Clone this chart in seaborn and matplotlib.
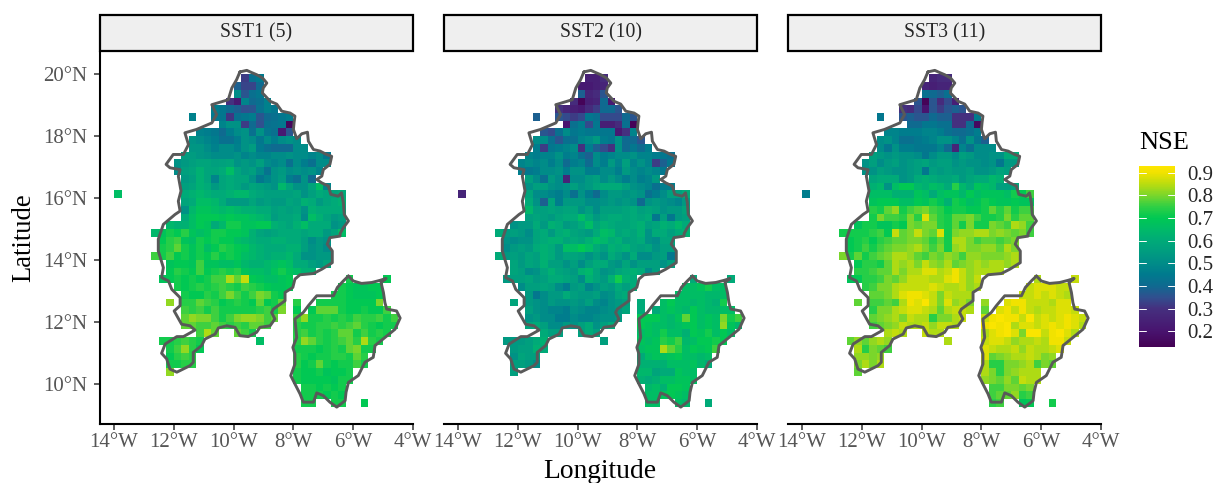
import numpy as np
import pandas as pd
import matplotlib
matplotlib.use("Agg")
import matplotlib.pyplot as plt
from matplotlib.cm import ScalarMappable
from matplotlib.colors import LinearSegmentedColormap, Normalize
from matplotlib.patches import Rectangle
import seaborn as sns

_ = None

# first grid column used in each row, row 0 is the northern one
row_start = [17, 16, 16, 15, 13, 10, 14, 11, 10, 10, 9, 8, 8, 9, 9, 0, 9, 9, 9, 7, 5, 6,
             6, 5, 7, 7, 6, 8, 9, 7, 9, 9, 9, 11, 6, 7, 7, 7, 7, 24, 25, 25, 25]

# NSE x 100 read from the cells
sst1_rows = [
    [32, 42, 45],
    [38, 33, 33, 40],
    [50, 36, 42, 44],
    [30, 22, 48, 40, 42, 47],
    [46, 44, 40, 38, 35, 36, 43, 47, 44],
    [47, _, _, 44, 44, 31, 42, 44, 46, 36, 40, 42, 44, 46],
    [48, 52, 52, 32, 40, 35, 42, 43, 44, 15],
    [47, 46, 44, 40, 46, 50, 52, 42, 52, 44, 42, 22, 36],
    [52, 50, 48, 46, 42, 42, 46, 52, 50, 44, 50, 46, 50, 52, 50],
    [53, 53, 50, 47, 50, 50, 47, 52, 55, 45, 42, 40, 40, 40, 50, 50],
    [55, 55, 53, 52, 50, 50, 50, 52, 48, 50, 48, 48, 50, 50, 52, 50, 50, 48, 50, 44],
    [52, 54, 56, 58, 58, 56, 57, 58, 52, 54, 52, 56, 50, 48, 50, 42, 50, 46, 42, 50, 50],
    [50, 56, 58, 62, 58, 58, 60, 66, 58, 54, 56, 50, 43, 52, 54, 50, 52, 50, 52, 48],
    [54, 56, 62, 58, 48, 58, 60, 58, 58, 52, 44, 48, 52, 55, 46, 42, 52, 40],
    [56, 58, 62, 60, 54, 58, 60, 58, 54, 58, 56, 54, 52, 64, 58, 52, 52, 58, 66, 48],
    [66, _, _, _, _, _, _, _, _, 60, 62, 64, 62, 60, 60, 62, 64, 64, 60, 58, 56, 56, 56, 56, 58, 52, 56, 60, 58, 58, 60],
    [58, 60, 66, 66, 64, 60, 54, 54, 54, 58, 54, 56, 54, 54, 58, 56, 62, 60, 54, 58, 60, 62],
    [52, 64, 68, 68, 66, 64, 66, 64, 62, 62, 60, 60, 56, 58, 56, 58, 52, 62, 60, 60, 60, 60],
    [60, 66, 70, 70, 70, 68, 70, 68, 68, 66, 64, 62, 55, 58, 58, 60, 50, 66, 62, 58, 54, 56],
    [64, 62, 62, 66, 70, 68, 60, 64, 72, 72, 68, 68, 70, 70, 62, 60, 58, 62, 66, 60, 60, 60, 52, 54],
    [64, 68, 72, 70, 74, 68, 66, 68, 72, 72, 70, 70, 68, 62, 58, 56, 58, 60, 60, 60, 58, 60, 60, 54, 58, 66],
    [70, 74, 76, 68, 66, 72, 70, 72, 70, 70, 66, 64, 62, 60, 60, 62, 62, 60, 60, 56, 50, 54, 52],
    [72, 74, 78, 72, 68, 72, 66, 70, 74, 72, 70, 68, 64, 62, 60, 60, 60, 62, 62, 56, 52, 54, 50],
    [76, 72, 76, 70, 72, 68, 72, 70, 74, 70, 72, 70, 66, 64, 62, 60, 62, 62, 64, 60, 52, 52, 54, 54],
    [68, 70, 70, 68, 76, 68, 68, 66, 66, 68, 64, 62, 62, 64, 66, 68, 66, 60, 60, 56, 54, 58],
    [70, 74, 72, 70, 76, 70, 72, 74, 72, 74, 68, 66, 66, 64, 68, 72, 68, 66, 62, 62],
    [68, 70, 72, 70, 72, 70, 72, 76, 76, 84, 78, 86, 70, 68, 66, 66, 68, 70, _, _, _, _, _, _, _, 72, _, _, _, _, 70],
    [72, 70, 72, 74, 72, 74, 76, 74, 72, 76, 74, 72, 70, 68, 68, 70, _, _, _, _, _, _, 72, 70, 68, 68, 70, 70],
    [72, 70, 70, 74, 72, 76, 80, 76, 72, 76, 80, 78, 72, 70, _, _, _, _, _, _, 72, 72, 70, 68, 68, 68, 70],
    [82, _, 74, 74, 78, 76, 74, 70, 72, 74, 72, 70, 78, 70, 72, 78, _, 74, _, _, 72, 72, 72, 72, 70, 70, 70, 70, 80],
    [76, 74, 76, 72, 76, 72, 72, 72, 72, 72, 74, 76, 72, 80, _, 70, _, 70, 78, 78, 78, 72, 70, 70, 72, 70, 70, 76],
    [78, 82, 80, 80, 76, 72, 76, 80, 82, 82, 80, 76, 78, _, _, 76, 82, 72, 72, 74, 72, 74, 72, 76, 74, 74, 76, 72, 76],
    [78, 78, 76, 76, 78, 76, 74, 76, 74, 78, 78, 76, _, _, _, 74, 72, 72, 74, 74, 76, 74, 76, 78, 74, 72, 70, 72, 72],
    [76, 84, 78, _, _, 78, 76, 72, _, _, _, _, _, 74, 76, 72, 74, 72, 74, 78, 78, 72, 76, 72, 74, 72],
    [72, 72, 74, 76, 74, 72, _, _, _, _, _, _, _, 66, _, _, _, _, 74, 82, 78, 74, 72, 74, 76, 78, 74, 84, 74, 72],
    [72, 76, 82, 74, 70, _, _, _, _, _, _, _, _, _, _, _, _, 72, 72, 72, 70, 72, 74, 72, 78, 80, 72, 72],
    [70, 74, 76, 74, _, _, _, _, _, _, _, _, _, _, _, _, _, 74, 72, 70, 72, 72, 74, 74, 72, 78, 74],
    [72, 72, 74, 74, _, _, _, _, _, _, _, _, _, _, _, _, _, 74, 70, 72, 78, 72, 70, 72, 72, 76, 72],
    [82, _, _, _, _, _, _, _, _, _, _, _, _, _, _, _, _, 72, 70, 70, 72, 68, 70, 70, 72],
    [72, 70, 70, 70, 70, 68, 72, 72],
    [72, 72, 70, 72, 70, 72],
    [72, 72, 72, 70, 72, 70],
    [72, 72, _, _, 72, 72, _, _, 70],
]

sst2_rows = [
    [24, 24, 28],
    [22, 22, 24, 26],
    [38, 26, 28, 36],
    [28, 14, 24, 26, 40, 22],
    [30, 26, 24, 22, 28, 32, 40, 40, 36],
    [38, _, _, 36, 34, 32, 34, 44, 42, 34, 34, 34, 40, 36],
    [20, 42, 46, 34, 44, 24, 24, 28, 42, 14],
    [36, 34, 42, 50, 44, 46, 44, 44, 44, 44, 22, 30, 48],
    [50, 50, 42, 36, 42, 42, 48, 50, 54, 46, 44, 52, 40, 40, 36],
    [46, 32, 44, 46, 48, 50, 30, 46, 38, 34, 30, 52, 40, 44, 40, 46],
    [48, 46, 48, 48, 52, 46, 48, 42, 38, 50, 46, 48, 50, 50, 52, 48, 48, 46, 44, 42],
    [48, 50, 48, 50, 46, 50, 40, 46, 48, 40, 50, 46, 54, 48, 56, 48, 52, 48, 32, 38, 44],
    [46, 44, 46, 50, 50, 52, 46, 52, 52, 46, 46, 50, 50, 46, 54, 50, 48, 50, 48, 44],
    [56, 50, 42, 54, 50, 26, 50, 50, 54, 56, 50, 54, 50, 46, 50, 46, 48, 54],
    [52, 56, 56, 52, 50, 52, 56, 52, 54, 58, 60, 60, 60, 56, 52, 50, 48, 42, 46, 46],
    [26, _, _, _, _, _, _, _, _, 58, 50, 50, 48, 46, 50, 42, 52, 46, 40, 50, 54, 54, 52, 54, 52, 42, 46, 50, 56, 56, 60],
    [60, 52, 38, 58, 46, 54, 54, 54, 50, 50, 52, 54, 52, 54, 52, 40, 52, 54, 52, 50, 48, 54],
    [64, 56, 56, 58, 56, 58, 58, 52, 56, 50, 56, 56, 56, 58, 60, 56, 58, 56, 52, 54, 54, 58],
    [56, 58, 56, 54, 58, 60, 60, 66, 60, 54, 58, 60, 60, 58, 60, 58, 60, 44, 56, 44, 54, 56],
    [52, 54, 54, 60, 54, 62, 60, 54, 56, 60, 66, 58, 62, 60, 58, 58, 60, 62, 56, 58, 62, 60, 64, 60],
    [60, 54, 56, 54, 50, 58, 60, 54, 60, 62, 58, 56, 54, 60, 66, 64, 58, 60, 58, 62, 52, 60, 60, 56, 60, 62],
    [52, 50, 52, 52, 58, 60, 62, 62, 58, 60, 58, 62, 66, 64, 60, 62, 56, 58, 60, 52, 50, 58, 58],
    [50, 54, 56, 54, 60, 62, 60, 54, 66, 66, 70, 66, 60, 56, 62, 60, 62, 58, 56, 58, 52, 56, 56],
    [60, 54, 56, 54, 58, 56, 62, 60, 54, 58, 58, 56, 52, 56, 52, 60, 56, 52, 60, 50, 50, 54, 56, 44],
    [58, 54, 58, 56, 62, 56, 56, 52, 56, 50, 56, 60, 60, 54, 52, 58, 52, 56, 56, 56, 52, 56],
    [58, 56, 50, 52, 58, 62, 58, 56, 54, 62, 64, 58, 52, 54, 58, 60, 62, 60, 50, 56],
    [54, 56, 56, 58, 54, 56, 60, 60, 58, 56, 50, 62, 58, 54, 62, 72, 62, 60, _, _, _, _, _, _, _, 60, _, _, _, _, 60],
    [50, 56, 56, 58, 56, 50, 46, 54, 56, 48, 52, 56, 54, 60, 56, 60, _, _, _, _, _, _, 66, 66, 68, 72, 66, 66],
    [54, 44, 50, 54, 54, 60, 56, 54, 54, 56, 50, 52, 58, 60, _, _, _, _, _, _, 66, 66, 66, 66, 64, 64, 66],
    [58, _, 54, 52, 50, 54, 52, 52, 54, 52, 56, 50, 48, 52, 54, 56, _, 60, _, _, 66, 70, 66, 66, 64, 66, 64, 62, 72],
    [56, 52, 50, 48, 48, 46, 52, 50, 48, 48, 50, 52, 54, 58, _, 60, _, 60, 66, 68, 66, 64, 70, 66, 64, 64, 66, 66],
    [52, 54, 50, 50, 46, 46, 50, 48, 48, 50, 52, 52, 54, _, _, 70, 70, 70, 66, 64, 68, 78, 70, 66, 68, 66, 80, 72, 76],
    [58, 60, 56, 50, 50, 54, 52, 56, 60, 52, 56, 60, _, _, _, 70, 68, 66, 66, 64, 66, 68, 70, 66, 68, 66, 82, 68, 64],
    [60, 56, 56, _, _, 56, 60, 56, _, _, _, _, _, 66, 68, 66, 72, 66, 66, 62, 70, 68, 72, 66, 70, 66],
    [54, 54, 54, 56, 60, 62, _, _, _, _, _, _, _, 56, _, _, _, _, 68, 66, 68, 74, 72, 76, 64, 66, 70, 70, 72, 70],
    [54, 56, 56, 62, 60, _, _, _, _, _, _, _, _, _, _, _, _, 66, 68, 68, 84, 78, 74, 66, 70, 68, 70, 76],
    [52, 58, 56, 56, _, _, _, _, _, _, _, _, _, _, _, _, _, 60, 66, 68, 66, 68, 70, 66, 66, 64, 66],
    [56, 56, 54, 50, _, _, _, _, _, _, _, _, _, _, _, _, _, 62, 62, 62, 62, 66, 66, 66, 68, 64, 60],
    [56, _, _, _, _, _, _, _, _, _, _, _, _, _, _, _, _, 64, 64, 58, 60, 60, 68, 66, 66],
    [62, 60, 62, 66, 66, 68, 68, 66],
    [64, 66, 62, 70, 70, 68],
    [66, 66, 68, 70, 68, 66],
    [66, 66, _, _, 66, 64, _, _, 60],
]

sst3_rows = [
    [26, 28, 28],
    [26, 24, 26, 26],
    [42, 40, 38, 42],
    [36, 14, 36, 28, 34, 24],
    [30, 28, 34, 20, 36, 32, 36, 38, 36],
    [44, _, _, 36, 38, 36, 36, 40, 38, 38, 30, 30, 30, 46],
    [40, 40, 44, 44, 42, 42, 30, 30, 40, 16],
    [48, 48, 46, 46, 46, 48, 48, 46, 42, 40, 40, 42, 46],
    [50, 52, 48, 42, 42, 44, 46, 48, 52, 52, 48, 42, 52, 44, 38],
    [50, 44, 52, 46, 46, 44, 44, 44, 48, 40, 26, 48, 42, 50, 50, 50],
    [56, 54, 52, 54, 52, 52, 50, 44, 50, 54, 54, 50, 56, 54, 50, 50, 52, 52, 60, 60],
    [52, 56, 50, 54, 56, 52, 54, 56, 58, 54, 56, 56, 52, 54, 52, 52, 50, 52, 44, 54, 54],
    [52, 52, 56, 54, 52, 52, 54, 56, 44, 56, 54, 56, 54, 54, 56, 52, 52, 54, 58, 56],
    [58, 60, 60, 60, 52, 54, 60, 62, 60, 58, 58, 60, 54, 58, 60, 60, 64, 62],
    [62, 64, 52, 66, 70, 70, 64, 62, 66, 64, 60, 74, 64, 60, 68, 66, 64, 56, 56, 58],
    [46, _, _, _, _, _, _, _, _, 66, 66, 66, 62, 62, 62, 68, 66, 60, 66, 68, 68, 64, 70, 66, 68, 68, 68, 66, 72, 70, 76],
    [68, 70, 70, 70, 66, 66, 70, 68, 72, 68, 62, 72, 70, 66, 68, 72, 70, 68, 68, 70, 68, 68],
    [74, 72, 78, 82, 72, 76, 78, 80, 76, 74, 70, 72, 72, 70, 70, 72, 78, 74, 78, 72, 76, 76],
    [72, 80, 76, 76, 74, 80, 74, 88, 78, 74, 72, 78, 78, 80, 76, 72, 72, 74, 80, 74, 78, 78],
    [68, 72, 72, 68, 68, 72, 70, 80, 78, 80, 80, 74, 72, 78, 72, 80, 72, 72, 80, 78, 76, 84, 82, 76],
    [72, 72, 72, 72, 74, 76, 70, 86, 78, 80, 86, 80, 78, 88, 72, 80, 82, 82, 84, 84, 80, 82, 80, 78, 80, 76],
    [70, 72, 74, 70, 74, 76, 78, 78, 80, 80, 78, 74, 78, 72, 84, 84, 80, 76, 78, 78, 76, 78, 80],
    [70, 72, 76, 72, 76, 78, 80, 80, 82, 84, 80, 76, 80, 72, 82, 84, 80, 80, 82, 82, 78, 84, 80],
    [80, 72, 78, 72, 76, 78, 80, 84, 84, 82, 78, 76, 80, 78, 82, 80, 76, 82, 82, 80, 80, 80, 82, 84],
    [70, 74, 74, 72, 78, 84, 82, 84, 80, 86, 82, 80, 84, 78, 80, 82, 84, 82, 84, 84, 82, 84],
    [74, 74, 76, 78, 78, 84, 80, 84, 84, 88, 88, 84, 86, 90, 86, 82, 84, 84, 84, 84],
    [68, 70, 74, 74, 76, 80, 78, 82, 86, 86, 86, 84, 84, 88, 90, 86, 82, 86, _, _, _, _, _, _, _, 84, _, _, _, _, 86],
    [74, 76, 80, 80, 84, 86, 86, 86, 86, 88, 86, 84, 84, 86, 82, 84, _, _, _, _, _, _, 86, 88, 88, 88, 86, 86],
    [78, 78, 80, 84, 88, 90, 90, 88, 86, 80, 86, 84, 84, 84, _, _, _, _, _, _, 86, 86, 88, 86, 88, 86, 84],
    [78, _, 76, 76, 78, 76, 84, 90, 88, 92, 86, 80, 88, 82, 84, 80, _, 82, _, _, 88, 90, 90, 86, 86, 86, 84, 88, 88],
    [74, 80, 80, 84, 86, 88, 88, 86, 84, 78, 84, 86, 86, 84, _, 78, _, 88, 90, 86, 90, 86, 84, 86, 86, 88, 88, 86],
    [78, 80, 82, 84, 80, 86, 84, 84, 74, 80, 80, 84, 86, _, _, 86, 90, 92, 90, 90, 86, 92, 86, 88, 86, 88, 90, 88, 86],
    [76, 78, 80, 82, 86, 84, 84, 86, 82, 86, 86, 84, _, _, _, 90, 92, 90, 92, 84, 88, 88, 86, 88, 90, 88, 90, 88, 84],
    [84, 86, 84, _, _, 86, 84, 84, _, _, _, _, _, 84, 88, 90, 92, 88, 80, 92, 92, 86, 90, 92, 88, 84],
    [78, 82, 78, 82, 84, 82, _, _, _, _, _, _, _, 84, _, _, _, _, 86, 88, 88, 86, 82, 84, 84, 86, 84, 90, 90, 86],
    [84, 74, 80, 78, 76, _, _, _, _, _, _, _, _, _, _, _, _, 88, 86, 84, 84, 86, 82, 86, 84, 84, 86, 88],
    [82, 82, 80, 82, _, _, _, _, _, _, _, _, _, _, _, _, _, 88, 78, 80, 82, 84, 84, 86, 84, 80, 82],
    [80, 84, 80, 84, _, _, _, _, _, _, _, _, _, _, _, _, _, 84, 74, 74, 80, 80, 82, 84, 76, 80, 78],
    [78, _, _, _, _, _, _, _, _, _, _, _, _, _, _, _, _, 84, 80, 74, 80, 82, 84, 84, 84],
    [82, 80, 78, 82, 78, 86, 84, 84],
    [76, 76, 80, 80, 78, 80],
    [76, 78, 78, 82, 74, 76],
    [74, 76, _, _, 68, 70, _, _, 72],
]

panel_names = ["SST1 (5)", "SST2 (10)", "SST3 (11)"]

# basin outlines
north_lon = [-9.79, -9.56, -9.40, -9.23, -9.03, -8.89, -9.01, -9.04, -8.93, -8.78, -8.56, -8.39, -8.11, -7.95,
             -7.98, -8.00, -7.89, -7.72, -7.53, -7.50, -7.33, -7.11, -6.89, -6.72, -6.78, -7.00, -7.05, -7.22,
             -7.05, -6.83, -6.75, -6.50, -6.39, -6.33, -6.30, -6.16, -6.33, -6.44, -6.44, -6.78, -6.87, -6.70,
             -6.70, -7.05, -7.33, -7.78, -7.95, -8.02, -8.28, -8.28, -8.67, -8.73, -8.62, -8.78, -9.12, -9.23,
             -9.51, -9.79, -9.95, -10.23, -10.51, -10.62, -10.96, -11.07, -11.35, -11.35, -11.46, -11.90, -12.13,
             -12.24, -12.41, -12.29, -11.90, -11.68, -11.29, -11.46, -11.74, -11.99, -11.79, -11.79, -12.07,
             -12.18, -12.41, -12.35, -12.52, -12.52, -12.35, -11.96, -11.79, -11.85, -11.76, -11.85, -11.79,
             -12.13, -12.26, -12.02, -11.68, -11.51, -11.63, -11.24, -10.73, -10.57, -10.73, -10.18, -10.06, -9.90, -9.79]
north_lat = [20.08, 20.13, 20.06, 19.99, 19.88, 19.72, 19.56, 19.40, 19.29, 19.13, 19.04, 18.81, 18.75, 18.65,
             18.43, 18.22, 17.92, 18.08, 18.13, 17.84, 17.57, 17.52, 17.41, 17.35, 17.09, 16.92, 16.71, 16.60,
             16.49, 16.39, 16.12, 16.06, 16.17, 15.85, 15.47, 15.26, 15.04, 14.85, 14.77, 14.72, 14.51, 14.29,
             13.91, 13.70, 13.56, 13.52, 13.38, 13.11, 12.95, 12.68, 12.41, 12.30, 12.09, 11.87, 11.82, 11.66,
             11.52, 11.55, 11.82, 11.87, 11.80, 11.60, 11.44, 11.23, 11.01, 10.69, 10.58, 10.37, 10.47,
             10.80, 10.98, 11.28, 11.52, 11.52, 11.73, 11.87, 11.92, 12.35, 12.52, 12.78, 13.05,
             13.32, 13.43, 13.75, 14.29, 14.67, 15.15, 15.47, 15.58, 15.90, 16.23, 16.71, 16.92,
             16.98, 17.09, 17.41, 17.41, 17.73, 18.11, 18.22, 18.43, 18.70, 19.02, 19.18, 19.56, 19.83, 20.08]
south_lon = [-6.16, -6.00, -5.72, -5.38, -5.10, -4.90, -5.07, -4.99, -4.94, -4.88, -4.55, -4.43, -4.60, -4.94,
             -5.27, -5.33, -5.61, -5.83, -6.16, -6.24, -6.27, -6.55, -6.78, -7.00, -7.22, -7.33, -7.67, -7.78,
             -7.95, -8.09, -7.95, -7.95, -8.02, -7.89, -7.95, -7.67, -7.50, -7.22, -6.66, -6.53, -6.33, -6.16]
south_lat = [13.48, 13.32, 13.24, 13.27, 13.34, 13.40, 13.27, 12.95, 12.62, 12.41, 12.35, 12.12, 11.76, 11.49,
             11.23, 10.85, 10.69, 10.26, 10.04, 9.72, 9.45, 9.24, 9.40, 9.61, 9.70, 9.40, 9.40, 9.67,
             9.99, 10.26, 10.63, 10.96, 11.17, 11.49, 12.09, 12.30, 12.52, 12.84, 12.84, 13.11, 13.32, 13.48]

lon_ticks = [-14, -12, -10, -8, -6, -4]
lat_ticks = [10, 12, 14, 16, 18, 20]
nse_ticks = [0.2, 0.3, 0.4, 0.5, 0.6, 0.7, 0.8, 0.9]
nse_min, nse_max = 0.13, 0.93

# colour bar of the figure is a print-shifted viridis
bar_stops = [0.13, 0.2, 0.3, 0.35, 0.4, 0.45, 0.5, 0.55, 0.6, 0.65, 0.7, 0.75, 0.8, 0.85, 0.9, 0.93]
bar_colors = ["#440154", "#48146f", "#45307f", "#30508f", "#0f6a90", "#007a8e", "#008c88", "#009c80",
              "#00aa78", "#00ba68", "#00c853", "#2ecf45", "#78d62c", "#b8dc10", "#f0e200", "#fee600"]
nse_cmap = LinearSegmentedColormap.from_list(
    "nse", [((s - nse_min) / (nse_max - nse_min), c) for s, c in zip(bar_stops, bar_colors)])
norm = Normalize(nse_min, nse_max)

lon_grid = -13.875 + 0.25 * np.arange(38)
lat_grid = 19.875 - 0.25 * np.arange(43)

records = []
for name, rows in zip(panel_names, [sst1_rows, sst2_rows, sst3_rows]):
    for r, row in enumerate(rows):
        for k, v in enumerate(row):
            if v is not None:
                records.append((name, lon_grid[row_start[r] + k], lat_grid[r], v / 100))
df = pd.DataFrame(records, columns=["panel", "lon", "lat", "nse"])

SERIF = "Liberation Serif"
sns.set_theme(style="white")
plt.rcParams["font.family"] = [SERIF, "DejaVu Serif"]


def draw_cells(data, **kws):
    ax = plt.gca()
    grid = data.pivot(index="lat", columns="lon", values="nse").reindex(index=lat_grid, columns=lon_grid)
    ax.pcolormesh(lon_grid, lat_grid, grid.values, cmap=nse_cmap, norm=norm, shading="nearest")
    ax.plot(north_lon, north_lat, color="#595959", lw=2.1, solid_joinstyle="round")
    ax.plot(south_lon, south_lat, color="#595959", lw=2.1, solid_joinstyle="round")


g = sns.FacetGrid(df, col="panel", col_order=panel_names, sharex=True, sharey=True, despine=False)
g.map_dataframe(draw_cells)
fig = g.figure
fig.set_size_inches(12.19, 4.83)

W, H = 1219, 483
for ax, left, name in zip(g.axes.flat, [100, 444, 788], panel_names):
    ax.set_position([left / W, (H - 423.5) / H, 313 / W, 372 / H])
    ax.set_xlim(-14.47, -4.0)
    ax.set_ylim(8.71, 20.74)
    ax.set_title("")
    ax.set_xlabel("")
    ax.set_ylabel("")
    ax.set_xticks(lon_ticks)
    ax.set_xticklabels([f"{abs(t)}°W" for t in lon_ticks])
    ax.tick_params(axis="x", length=4, width=1.1, color="#333333", labelcolor="#555555", labelsize=15, pad=3, bottom=True)
    for s in ["top", "right"]:
        ax.spines[s].set_visible(False)
    ax.spines["bottom"].set_visible(True)
    ax.spines["bottom"].set_color("black")
    ax.spines["bottom"].set_linewidth(1.5)
    if left == 100:
        ax.spines["left"].set_visible(True)
        ax.spines["left"].set_color("black")
        ax.spines["left"].set_linewidth(1.5)
        ax.set_yticks(lat_ticks)
        ax.set_yticklabels([f"{t}°N" for t in lat_ticks])
        ax.tick_params(axis="y", length=4, width=1.1, color="#333333", labelcolor="#555555", labelsize=15, pad=5, left=True)
    else:
        ax.spines["left"].set_visible(False)
        ax.tick_params(axis="y", left=False, labelleft=False)
    ax.add_patch(Rectangle((0, 1.002), 1, 0.095, transform=ax.transAxes, clip_on=False,
                           facecolor="#efefef", edgecolor="black", lw=1.6))
    ax.text(0.5, 1.05, name, transform=ax.transAxes, ha="center", va="center", fontsize=14.2, color="#262626")

fig.text(600 / W, 1 - 471 / H, "Longitude", ha="center", va="center", fontsize=19.8, color="black")
fig.text(24 / W, 1 - 238 / H, "Latitude", ha="center", va="center", rotation=90, fontsize=19.2, color="black")

cax = fig.add_axes([1139 / W, (H - 347) / H, 36 / W, 181 / H])
cb = fig.colorbar(ScalarMappable(norm=norm, cmap=nse_cmap), cax=cax)
cb.outline.set_visible(False)
cb.set_ticks(nse_ticks)
cb.set_ticklabels([f"{t:.1f}" for t in nse_ticks])
cax.tick_params(axis="y", length=0, labelsize=15, labelcolor="#262626", pad=9, right=True)
for t in nse_ticks:
    cax.plot([0, 0.2], [t, t], color="white", lw=0.7, transform=cax.get_yaxis_transform())
    cax.plot([0.8, 1], [t, t], color="white", lw=0.7, transform=cax.get_yaxis_transform())
fig.text(1139 / W, 1 - 143 / H, "NSE", ha="left", va="center", fontsize=19, color="black")

fig.savefig("out.png", dpi=100)
